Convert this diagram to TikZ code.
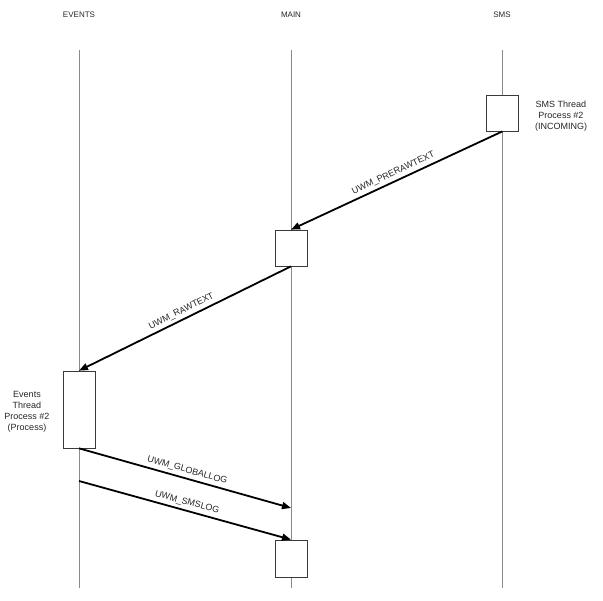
\documentclass[tikz,border=0pt]{standalone}
\usepackage{fontspec}
\setmainfont{Liberation Sans}
\usetikzlibrary{arrows.meta, positioning}
\definecolor{lifeline}{HTML}{8A8A8A}
\definecolor{actline}{HTML}{3A3A3A}
\definecolor{actfill}{HTML}{FFFFFF}
\definecolor{msgline}{HTML}{000000}
\tikzset{
  hdr/.style    = {font=\fontsize{8}{10}\selectfont, text=black!85, align=center},
  life/.style   = {draw=lifeline, line width=0.9pt},
  act/.style    = {rectangle, draw=actline, fill=actfill, line width=0.7pt,
                   inner sep=0pt, minimum width=32pt},
  note/.style   = {font=\fontsize{9}{11}\selectfont, text=black!85, align=center},
  msg/.style    = {-{Triangle[length=9pt, width=7pt]}, draw=msgline, line width=1.8pt},
  msglab/.style = {font=\fontsize{9}{11}\selectfont, text=black!85, sloped, above,
                   midway, inner sep=3pt},
}
\begin{document}
\begin{tikzpicture}[x=1pt, y=-1pt]
  \useasboundingbox (0,0) rectangle (603,601);
  % ---- lane headers and lifelines ----
  \node[hdr] (hev)   at (79,15)  {EVENTS};
  \node[hdr] (hmain) at (291,15) {MAIN};
  \node[hdr] (hsms)  at (502,15) {SMS};
  \coordinate (evtop)   at (79,50);   \coordinate (evbot)   at (79,588);
  \coordinate (maintop) at (291,50);  \coordinate (mainbot) at (291,588);
  \coordinate (smstop)  at (502,50);  \coordinate (smsbot)  at (502,588);
  \foreach \l in {ev,main,sms}{\draw[life] (\l top) -- (\l bot);}
  % ---- activation boxes ----
  \node[act, minimum height=36pt] (smsact)   at (502.5,113) {};
  \node[act, minimum height=36pt] (mainact)  at (291,248)   {};
  \node[act, minimum height=77pt] (evact)    at (79,409.5)  {};
  \node[act, minimum height=37pt] (mainact2) at (291,558.5) {};
  \node[note] (smsnote) at (561,116) {SMS Thread\\Process \#2\\(INCOMING)};
  \node[note] (evnote)  at (27,412)  {Events\\Thread\\Process \#2\\(Process)};
  % ---- messages ----
  \coordinate (glob)   at (291,508);
  \coordinate (smslog) at (79,481);
  \draw[msg] (smsact.south) -- (mainact.north) node[msglab] {UWM\_PRERAWTEXT};
  \draw[msg] (mainact.south) -- (evact.north) node[msglab] {UWM\_RAWTEXT};
  \draw[msg] (evact.south) -- (glob) node[msglab] {UWM\_GLOBALLOG};
  \draw[msg] (smslog) -- (mainact2.north) node[msglab] {UWM\_SMSLOG};
\end{tikzpicture}
\end{document}
